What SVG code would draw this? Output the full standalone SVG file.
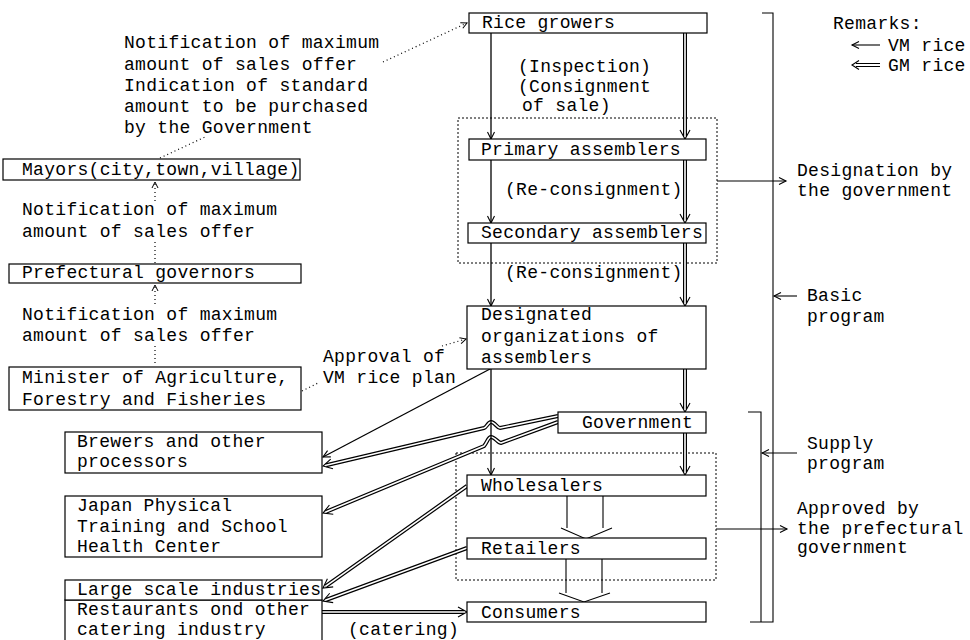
<svg xmlns="http://www.w3.org/2000/svg" width="970" height="640" viewBox="0 0 970 640">
<style>
text { font-family: "Liberation Mono", "DejaVu Sans Mono", monospace; font-size: 18px; letter-spacing: 0.3px; fill: #000; }
.box { fill: #fff; stroke: #000; stroke-width: 1.2; }
.vm { fill: none; stroke: #000; stroke-width: 1.3; marker-end: url(#av); }
.gmo { fill: none; stroke: #000; stroke-width: 4; marker-end: url(#ag); }
.gmi { fill: none; stroke: #fff; stroke-width: 1.6; }
.dot { fill: none; stroke: #000; stroke-width: 1.2; stroke-dasharray: 1 3; }
.dbox { fill: none; stroke: #000; stroke-width: 1; stroke-dasharray: 2 2; }
.thin { fill: none; stroke: #000; stroke-width: 1.1; }
.arr { marker-end: url(#av); }
.darr { marker-end: url(#ad); }
.chev { fill: none; stroke: #000; stroke-width: 1.1; }
</style>
<defs>
<marker id="av" viewBox="-10 -6 12 12" refX="0" refY="0" markerWidth="12" markerHeight="12" markerUnits="userSpaceOnUse" orient="auto" overflow="visible"><path d="M-7,-3.5 L0,0 L-7,3.5" fill="none" stroke="#000" stroke-width="1.1"/></marker>
<marker id="ag" viewBox="-12 -7 14 14" refX="-3" refY="0" markerWidth="14" markerHeight="14" markerUnits="userSpaceOnUse" orient="auto" overflow="visible"><path d="M-9,-5 L0,0 L-9,5" fill="none" stroke="#000" stroke-width="1.1"/></marker>
<marker id="ad" viewBox="-8 -5 10 10" refX="0" refY="0" markerWidth="10" markerHeight="10" markerUnits="userSpaceOnUse" orient="auto" overflow="visible"><path d="M-6,-3 L0,0 L-6,3" fill="none" stroke="#000" stroke-width="1"/></marker>
</defs>
<rect width="970" height="640" fill="#fff"/>

<g id="groups">
<rect class="dbox" x="458" y="118" width="259" height="145"/>
<rect class="dbox" x="456" y="453" width="260" height="127"/>
</g>

<g id="connectors">
<!-- GM rice double lines -->
<path class="gmo" d="M685,33 V136"/><path class="gmi" d="M685,33 V136"/>
<path class="gmo" d="M685,160 V220"/><path class="gmi" d="M685,160 V220"/>
<path class="gmo" d="M685,243 V303"/><path class="gmi" d="M685,243 V303"/>
<path class="gmo" d="M685,369 V409"/><path class="gmi" d="M685,369 V409"/>
<path class="gmo" d="M685,433 V472"/><path class="gmi" d="M685,433 V472"/>
<path class="gmo" d="M558,416 L500,428 C497,428 495,422 491,422 C488,422 487,427 484,428 L326,465.3"/>
<path class="gmi" d="M558,416 L500,428 C497,428 495,422 491,422 C488,422 487,427 484,428 L326,465.3"/>
<path class="gmo" d="M558,422 L501,443 C498,443 495,437 491,437 C488,437 487,443 484,446 L325.8,511.9"/>
<path class="gmi" d="M558,422 L501,443 C498,443 495,437 491,437 C488,437 487,443 484,446 L325.8,511.9"/>
<path class="gmo" d="M467,486 L325.4,586.3"/><path class="gmi" d="M467,486 L325.4,586.3"/>
<path class="gmo" d="M467,548 L325.8,600"/><path class="gmi" d="M467,548 L325.8,600"/>
<path class="gmo" d="M322,612 L464,612"/><path class="gmi" d="M322,612 L464,612"/>
<!-- VM rice single lines -->
<path class="vm" d="M491,33 V139"/>
<path class="vm" d="M491,160 V223"/>
<path class="vm" d="M491,243 V306"/>
<path class="vm" d="M491,369 V475"/>
<path class="vm" d="M490,369 L323,457"/>
<!-- open block arrows -->
<path class="chev" d="M567,496 V528 M603,496 V528 M561,528 L586,539 L612,528"/>
<path class="chev" d="M566,559 V593 M602,559 V593 M559,593 L584,602 L610,593"/>
<!-- dotted notification lines -->
<path class="dot darr" d="M383,62 L467,23"/>
<path class="dot" d="M160,158 L205,137"/>
<path class="dot darr" d="M155,201 V182"/>
<path class="dot" d="M155,242 V263"/>
<path class="dot darr" d="M155,304 V285"/>
<path class="dot" d="M155,346 V366"/>
<path class="dot" d="M302,391 L318,383"/>
<path class="dot darr" d="M442,346 L466,339"/>
<!-- brackets and side arrows -->
<path class="thin" d="M762,13 H773 V622 H750"/>
<path class="thin" d="M748,412 H761 V622"/>
<path class="thin arr" d="M717,181 H786"/>
<path class="thin arr" d="M797,296 H774"/>
<path class="thin arr" d="M797,453 H762"/>
<path class="thin arr" d="M716,529 H787"/>
<!-- legend arrows -->
<path class="thin arr" d="M880,45 H852"/>
<path class="chev" d="M880,63.5 H856 M880,66.5 H856 M859,60.5 L852,65 L859,69.5"/>
</g>

<g id="n-rice"><rect class="box" x="469" y="13" width="238" height="20"/><text x="482" y="28">Rice growers</text></g>
<g id="n-primary"><rect class="box" x="469" y="139" width="237" height="21"/><text x="481" y="155">Primary assemblers</text></g>
<g id="n-secondary"><rect class="box" x="468" y="223" width="238" height="20"/><text x="481" y="238">Secondary assemblers</text></g>
<g id="n-designated"><rect class="box" x="467" y="306" width="239" height="63"/><text x="481" y="320">Designated</text><text x="481" y="342">organizations of</text><text x="481" y="363">assemblers</text></g>
<g id="n-government"><rect class="box" x="558" y="412" width="148" height="21"/><text x="582" y="428">Government</text></g>
<g id="n-wholesalers"><rect class="box" x="467" y="475" width="239" height="21"/><text x="481" y="491">Wholesalers</text></g>
<g id="n-retailers"><rect class="box" x="467" y="538" width="239" height="21"/><text x="481" y="554">Retailers</text></g>
<g id="n-consumers"><rect class="box" x="467" y="602" width="239" height="20"/><text x="481" y="618">Consumers</text></g>
<g id="n-mayors"><rect class="box" x="3" y="159" width="297" height="21"/><text x="22" y="175">Mayors(city,town,village)</text></g>
<g id="n-prefectural"><rect class="box" x="9" y="264" width="292" height="19"/><text x="22" y="278">Prefectural governors</text></g>
<g id="n-minister"><rect class="box" x="9" y="367" width="292" height="43"/><text x="22" y="383">Minister of Agriculture,</text><text x="22" y="405">Forestry and Fisheries</text></g>
<g id="n-brewers"><rect class="box" x="65" y="432" width="257" height="41"/><text x="77" y="447">Brewers and other</text><text x="77" y="467">processors</text></g>
<g id="n-japan"><rect class="box" x="65" y="496" width="257" height="61"/><text x="77" y="511">Japan Physical</text><text x="77" y="532">Training and School</text><text x="77" y="552">Health Center</text></g>
<g id="n-restaurants"><rect class="box" x="65" y="600" width="257" height="45"/><text x="77" y="615">Restaurants ond other</text><text x="77" y="635">catering industry</text></g>
<g id="n-large"><rect class="box" x="65" y="580" width="257" height="20" stroke-width="2"/><text x="77" y="595">Large scale industries</text></g>

<g id="labels">
<text x="124" y="48">Notification of maximum</text>
<text x="124" y="70">amount of sales offer</text>
<text x="124" y="91">Indication of standard</text>
<text x="124" y="112">amount to be purchased</text>
<text x="124" y="133">by the Government</text>
<text x="22" y="215">Notification of maximum</text>
<text x="22" y="237">amount of sales offer</text>
<text x="22" y="320">Notification of maximum</text>
<text x="22" y="341">amount of sales offer</text>
<text x="323" y="362">Approval of</text>
<text x="323" y="383">VM rice plan</text>
<text x="518" y="72">(Inspection)</text>
<text x="518" y="92">(Consignment</text>
<text x="522" y="111">of sale)</text>
<text x="505" y="195">(Re-consignment)</text>
<text x="505" y="278">(Re-consignment)</text>
<text x="348" y="635">(catering)</text>
<text x="833" y="29">Remarks:</text>
<text x="888" y="51">VM rice</text>
<text x="888" y="71">GM rice</text>
<text x="797" y="176">Designation by</text>
<text x="797" y="196">the government</text>
<text x="807" y="301">Basic</text>
<text x="807" y="322">program</text>
<text x="807" y="449">Supply</text>
<text x="807" y="469">program</text>
<text x="797" y="514">Approved by</text>
<text x="797" y="534">the prefectural</text>
<text x="797" y="553">government</text>
</g>
</svg>
